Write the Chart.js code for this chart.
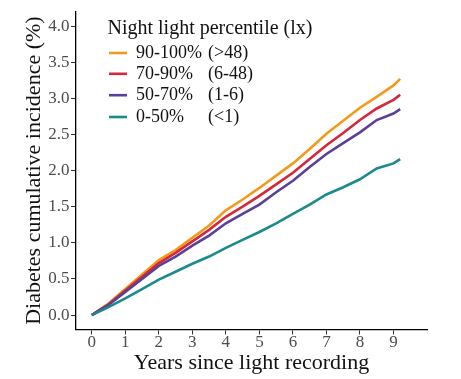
<!DOCTYPE html>
<html>
<head>
<meta charset="utf-8">
<script src="https://cdn.jsdelivr.net/npm/chart.js@4/dist/chart.umd.min.js"></script>
<style>
html,body{margin:0;padding:0;background:#fff;}
#wrap{position:relative;width:461px;height:379px;}
</style>
</head>
<body>
<div id="wrap"><canvas id="c" width="461" height="379"></canvas></div>
<script>
const years = [0,0.5,1,1.5,2,2.5,3,3.5,4,4.5,5,5.5,6,6.5,7,7.5,8,8.5,9,9.2];
const pct90_100 = [0,0.16,0.36,0.56,0.76,0.90,1.07,1.24,1.45,1.60,1.76,1.93,2.10,2.30,2.51,2.69,2.87,3.02,3.18,3.27];
const pct70_90  = [0,0.15,0.34,0.53,0.72,0.86,1.02,1.18,1.36,1.50,1.65,1.81,1.97,2.16,2.35,2.52,2.70,2.86,2.98,3.05];
const pct50_70  = [0,0.14,0.32,0.50,0.68,0.81,0.96,1.10,1.27,1.40,1.53,1.70,1.86,2.05,2.23,2.38,2.53,2.70,2.79,2.85];
const pct0_50   = [0,0.11,0.23,0.36,0.49,0.60,0.71,0.81,0.93,1.04,1.15,1.27,1.40,1.53,1.67,1.77,1.88,2.03,2.10,2.16];
const seriesNames = ["90-100%","70-90%","50-70%","0-50%"];
const seriesRanges = ["(>48)","(6-48)","(1-6)","(<1)"];
const legendTitle = "Night light percentile (lx)";
const xTicks = [0,1,2,3,4,5,6,7,8,9];
const yTicks = [0,0.5,1,1.5,2,2.5,3,3.5,4];
const xTitle = "Years since light recording";
const yTitle = "Diabetes cumulative incidence (%)";

const colors = ["#F39A1B","#D62839","#5A3F9B","#1B8A8C"];
const allSeries = [pct90_100, pct70_90, pct50_70, pct0_50];
const FONT = "'Liberation Serif','Times New Roman',serif";

const datasets = allSeries.map((s,i)=>({
  label: seriesNames[i] + " " + seriesRanges[i],
  data: years.map((x,j)=>({x:x,y:s[j]})),
  borderColor: colors[i],
  backgroundColor: colors[i],
  borderWidth: 2.6,
  pointRadius: 0,
  tension: 0,
  fill: false
})).reverse();

const legendPlugin = {
  id: 'customLegend',
  afterDraw(chart){
    const ctx = chart.ctx;
    ctx.save();
    ctx.fillStyle = '#111';
    ctx.textBaseline = 'middle';
    ctx.textAlign = 'left';
    ctx.font = "20px " + FONT;
    ctx.fillText(legendTitle, 107.5, 29);
    ctx.font = "18px " + FONT;
    const ys = [53, 73.8, 95.2, 117];
    for (let i=0;i<seriesNames.length;i++){
      ctx.strokeStyle = colors[i];
      ctx.lineWidth = 2.6;
      ctx.beginPath();
      ctx.moveTo(109, ys[i]);
      ctx.lineTo(127, ys[i]);
      ctx.stroke();
      ctx.fillStyle = '#111';
      ctx.fillText(seriesNames[i], 136, ys[i]);
      ctx.fillText(seriesRanges[i], 208, ys[i]);
    }
    ctx.restore();
  }
};

new Chart(document.getElementById('c'), {
  type: 'line',
  data: { datasets },
  plugins: [legendPlugin],
  options: {
    responsive: false,
    animation: false,
    devicePixelRatio: 1,
    layout: { padding: { top: 5, right: 34, left: 0, bottom: 0 } },
    plugins: { legend: { display: false }, tooltip: { enabled: false } },
    scales: {
      x: {
        type: 'linear',
        min: -0.47, max: 10.0,
        afterBuildTicks: s => { s.ticks = xTicks.map(v=>({value:v})); },
        afterFit: s => { s.height = 49.5; },
        grid: { display: true, drawOnChartArea: false, drawTicks: true, tickLength: 5, color: '#333', lineWidth: 1 },
        border: { display: true, color: '#000', width: 1.3 },
        ticks: { color: '#4D4D4D', font: { family: FONT, size: 17 }, padding: -2, maxRotation: 0, autoSkip: false,
                 callback: v => String(v) },
        title: { display: true, text: xTitle, color: '#111', font: { family: FONT, size: 22 }, padding: { top: 0, bottom: 3 } }
      },
      y: {
        type: 'linear',
        min: -0.2, max: 4.2,
        afterBuildTicks: s => { s.ticks = yTicks.map(v=>({value:v})); },
        afterFit: s => { s.width = 76; },
        grid: { display: true, drawOnChartArea: false, drawTicks: true, tickLength: 5, color: '#333', lineWidth: 1 },
        border: { display: true, color: '#000', width: 1.3 },
        ticks: { color: '#4D4D4D', font: { family: FONT, size: 17 }, padding: 1.5, autoSkip: false,
                 callback: v => Number(v).toFixed(1) },
        title: { display: true, text: yTitle, color: '#111', font: { family: FONT, size: 22 }, padding: { top: 21, bottom: 0 } }
      }
    }
  }
});
</script>
</body>
</html>
